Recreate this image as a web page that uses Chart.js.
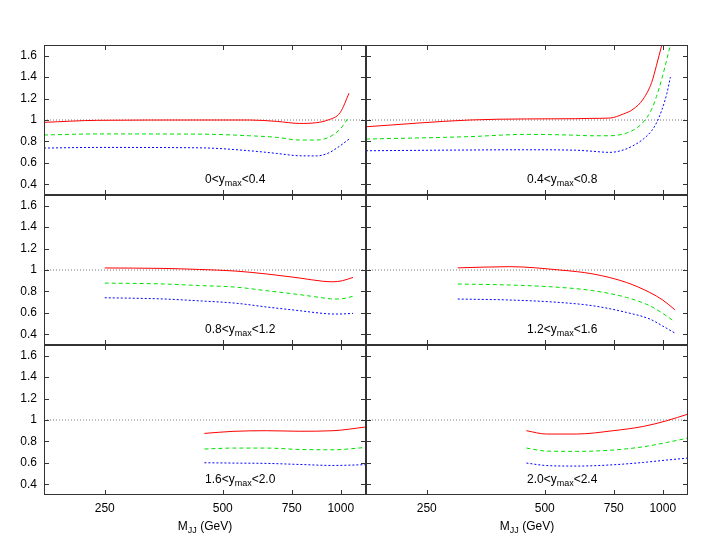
<!DOCTYPE html>
<html>
<head>
<meta charset="utf-8">
<script src="https://cdn.jsdelivr.net/npm/chart.js@4.4.1/dist/chart.umd.min.js"></script>
<style>
body { margin: 0; background: #fff; }
#wrap { position: relative; width: 708px; height: 547px; }
#wrap canvas { position: absolute; }
</style>
</head>
<body>
<div id="wrap"></div>
<script>
// axis ticks
const xTicks = [250, 500, 750, 1000];
const yTicks = [0.4, 0.6, 0.8, 1.0, 1.2, 1.4, 1.6];
const refValue = 1;

// ymax bins, one per panel
const binLow = ['0', '0.4', '0.8', '1.2', '1.6', '2.0'];
const binHigh = ['0.4', '0.8', '1.2', '1.6', '2.0', '2.4'];

// 0 < ymax < 0.4
const mass1 = [175, 240, 440, 585, 687, 786, 866, 928, 997, 1050];
const red1 = [0.978, 0.997, 1.0, 1.0, 0.987, 0.968, 0.975, 1.0, 1.07, 1.25];
const green1 = [0.86, 0.87, 0.868, 0.853, 0.838, 0.813, 0.813, 0.835, 0.916, 1.03];
const blue1 = [0.738, 0.744, 0.74, 0.713, 0.688, 0.666, 0.665, 0.69, 0.76, 0.822];

// 0.4 < ymax < 0.8
const mass2 = [175, 322, 449, 600, 652, 733, 793, 840, 892, 937, 964, 993, 1025, 1046];
const red2 = [0.937, 1.0, 1.01, 1.012, 1.015, 1.018, 1.056, 1.1, 1.196, 1.35, 1.51, 1.69, null, null];
const green2 = [0.822, 0.845, 0.866, 0.858, 0.853, 0.853, 0.869, 0.905, 0.98, 1.1, 1.22, 1.375, 1.57, 1.7];
const blue2 = [0.713, 0.72, 0.722, 0.718, 0.71, 0.698, 0.72, 0.76, 0.822, 0.9, 0.973, 1.085, 1.25, 1.4];

// 0.8 < ymax < 1.2
const mass3 = [250, 350, 436, 540, 646, 786, 900, 956, 1010, 1075];
const red3 = [1.019, 1.015, 1.005, 0.99, 0.963, 0.925, 0.895, 0.89, 0.9, 0.931];
const green3 = [0.878, 0.87, 0.855, 0.84, 0.807, 0.77, 0.74, 0.729, 0.732, 0.755];
const blue3 = [0.741, 0.73, 0.712, 0.69, 0.655, 0.62, 0.595, 0.589, 0.59, 0.595];

// 1.2 < ymax < 1.6
const mass4 = [300, 407, 546, 664, 808, 927, 1000, 1074];
const red4 = [1.02, 1.031, 1.0, 0.963, 0.884, 0.79, 0.72, 0.629];
const green4 = [0.869, 0.86, 0.838, 0.807, 0.744, 0.666, 0.595, 0.517];
const blue4 = [0.729, 0.72, 0.697, 0.666, 0.604, 0.542, 0.477, 0.411];

// 1.6 < ymax < 2.0
const mass5 = [449, 531, 646, 786, 956, 1160];
const red5 = [0.875, 0.894, 0.9, 0.895, 0.9, 0.935];
const green5 = [0.729, 0.738, 0.738, 0.725, 0.722, 0.744];
const blue5 = [0.601, 0.598, 0.595, 0.585, 0.576, 0.583];

// 2.0 < ymax < 2.4
const mass6 = [449, 505, 602, 747, 892, 1023, 1162];
const red6 = [0.9, 0.869, 0.869, 0.9, 0.94, 0.993, 1.056];
const green6 = [0.738, 0.71, 0.707, 0.72, 0.75, 0.79, 0.832];
const blue6 = [0.598, 0.575, 0.57, 0.582, 0.604, 0.626, 0.645];

const panels = [
    [mass1, red1, green1, blue1],
    [mass2, red2, green2, blue2],
    [mass3, red3, green3, blue3],
    [mass4, red4, green4, blue4],
    [mass5, red5, green5, blue5],
    [mass6, red6, green6, blue6]
];

const FONT = '"Liberation Sans", Arial, sans-serif';
const X_MIN = 175, X_MAX = 1160;

function toPoints(xs, ys) {
    return xs.map((x, i) => ({ x: x, y: ys[i] }));
}

// text mixed with subscripts; parts = [[text, isSub], ...]
function textWidth(ctx, parts) {
    let w = 0;
    parts.forEach(p => {
        ctx.font = (p[1] ? '9px ' : '12px ') + FONT;
        w += ctx.measureText(p[0]).width;
    });
    return w;
}
function drawParts(ctx, x, y, parts) {
    ctx.fillStyle = '#000';
    ctx.textBaseline = 'alphabetic';
    ctx.textAlign = 'left';
    parts.forEach(p => {
        ctx.font = (p[1] ? '9px ' : '12px ') + FONT;
        ctx.fillText(p[0], x, p[1] ? y + 3 : y);
        x += ctx.measureText(p[0]).width;
    });
}

const framePlugin = {
    id: 'frame',
    afterDatasetsDraw(chart, args, opts) {
        const ctx = chart.ctx;
        const a = chart.chartArea;
        const xs = chart.scales.x, ys = chart.scales.y;
        ctx.save();
        ctx.strokeStyle = '#333';
        ctx.lineWidth = 1;
        ctx.strokeRect(a.left + 0.5, a.top + 0.5, a.right - a.left - 1, a.bottom - a.top - 1);
        ctx.beginPath();
        xTicks.forEach(v => {
            const px = Math.round(xs.getPixelForValue(v)) + 0.5;
            ctx.moveTo(px, a.top); ctx.lineTo(px, a.top + 5);
            ctx.moveTo(px, a.bottom); ctx.lineTo(px, a.bottom - 5);
        });
        yTicks.forEach(v => {
            const py = Math.round(ys.getPixelForValue(v)) + 0.5;
            ctx.moveTo(a.left, py); ctx.lineTo(a.left + 5, py);
            ctx.moveTo(a.right, py); ctx.lineTo(a.right - 5, py);
        });
        ctx.stroke();

        // ymax bin label
        const i = opts.index;
        drawParts(ctx, a.left + 161, a.top + 138, [[binLow[i] + '<y', false], ['max', true], ['<' + binHigh[i], false]]);

        // axis title under the bottom row
        if (opts.bottom) {
            const parts = [['M', false], ['JJ', true], [' (GeV)', false]];
            const w = textWidth(ctx, parts);
            drawParts(ctx, (a.left + a.right) / 2 - w / 2, a.bottom + 35, parts);
        }
        ctx.restore();
    }
};

const wrap = document.getElementById('wrap');

panels.forEach((p, i) => {
    const col = i % 2, row = Math.floor(i / 2);
    const leftCol = col === 0, bottom = row === 2;
    const canvas = document.createElement('canvas');
    const w = leftCol ? 366 : 322;
    const h = bottom ? 202 : 150;
    canvas.width = w; canvas.height = h;
    canvas.style.left = (leftCol ? 0 : 366) + 'px';
    canvas.style.top = (45 + row * 150) + 'px';
    canvas.style.width = w + 'px'; canvas.style.height = h + 'px';
    wrap.appendChild(canvas);

    const line = (ys, color, dash) => ({
        data: toPoints(p[0], ys),
        borderColor: color,
        borderWidth: 1,
        borderDash: dash,
        pointRadius: 0,
        fill: false,
        cubicInterpolationMode: 'monotone',
        spanGaps: false
    });

    new Chart(canvas, {
        type: 'line',
        data: {
            datasets: [
                line(p[1], '#ff0000', []),
                line(p[2], '#00e000', [4, 3]),
                line(p[3], '#0000ff', [2, 2]),
                {
                    data: [{ x: X_MIN, y: refValue }, { x: X_MAX, y: refValue }],
                    borderColor: '#777',
                    borderWidth: 1,
                    borderDash: [1, 2],
                    pointRadius: 0,
                    fill: false
                }
            ]
        },
        options: {
            responsive: false,
            animation: false,
            devicePixelRatio: 1,
            layout: { padding: 0 },
            plugins: {
                legend: { display: false },
                tooltip: { enabled: false },
                frame: { index: i, bottom: bottom }
            },
            scales: {
                x: {
                    type: 'logarithmic',
                    min: X_MIN,
                    max: X_MAX,
                    display: bottom,
                    afterBuildTicks: s => { s.ticks = xTicks.map(v => ({ value: v })); },
                    afterFit: s => {
                        s.height = bottom ? 52 : 0;
                        s.paddingLeft = 0; s.paddingRight = 0;
                    },
                    grid: { display: false, drawTicks: false },
                    border: { display: false },
                    ticks: {
                        padding: 6,
                        maxRotation: 0,
                        autoSkip: false,
                        color: '#000',
                        font: { family: FONT, size: 12 },
                        callback: v => String(v)
                    }
                },
                y: {
                    type: 'linear',
                    min: 0.3,
                    max: 1.7,
                    display: leftCol,
                    afterBuildTicks: s => { s.ticks = yTicks.map(v => ({ value: v })); },
                    afterFit: s => {
                        s.width = leftCol ? 44 : 0;
                        s.paddingTop = 0; s.paddingBottom = 0;
                    },
                    grid: { display: false, drawTicks: false },
                    border: { display: false },
                    ticks: {
                        padding: 7,
                        color: '#000',
                        font: { family: FONT, size: 12 },
                        callback: v => String(Math.round(v * 10) / 10)
                    }
                }
            }
        },
        plugins: [framePlugin]
    });
});
</script>
</body>
</html>
